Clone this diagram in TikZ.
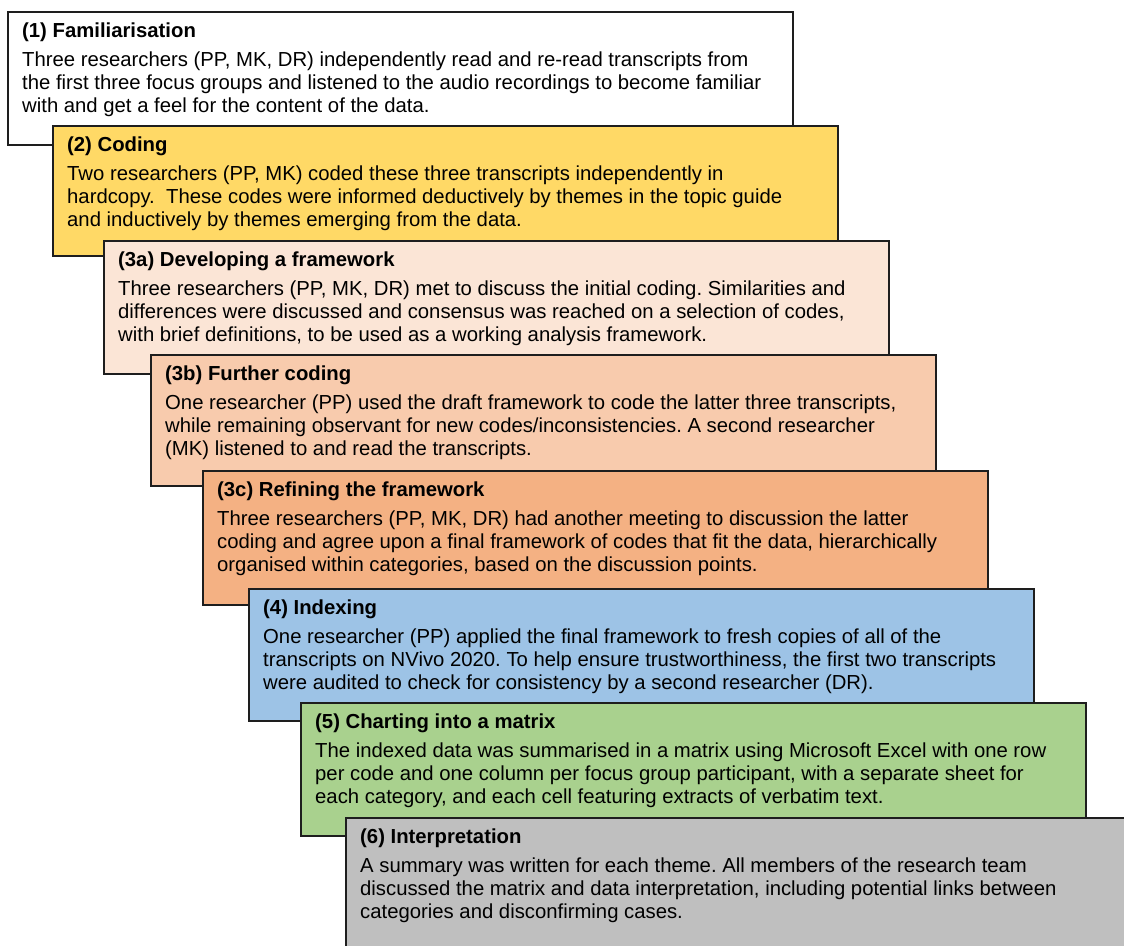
\documentclass[tikz,border=0pt]{standalone}
\usepackage{fontspec}
\setmainfont{Liberation Sans}
\usepackage{xcolor}
\usepackage{tikz}
\usetikzlibrary{calc}
\frenchspacing
\definecolor{famcolor}{RGB}{255,255,255}
\definecolor{codecolor}{RGB}{255,217,102}
\definecolor{framecolor}{RGB}{251,229,214}
\definecolor{furthercolor}{RGB}{248,203,173}
\definecolor{refinecolor}{RGB}{244,177,131}
\definecolor{indexcolor}{RGB}{157,195,230}
\definecolor{chartcolor}{RGB}{169,209,142}
\definecolor{interpcolor}{RGB}{191,191,191}
\definecolor{edgecolor}{RGB}{30,30,30}

\begin{document}
\begin{tikzpicture}[
    x=1pt, y=-1pt,
    every node/.style={font=\fontsize{20.3}{23}\selectfont},
    stepbox/.style={rectangle, draw=edgecolor, line width=1.8pt, anchor=north west, inner sep=0pt, minimum width=785pt, minimum height=133pt},
    steptitle/.style={anchor=base west, inner sep=0pt, font=\fontsize{20.3}{23}\selectfont\bfseries},
    steptext/.style={anchor=base west, inner sep=0pt, align=left}
]
\useasboundingbox (0,0) rectangle (1124,945);
\clip (0,0) rectangle (1124,945);

% (1) Familiarisation
\node[stepbox, fill=famcolor] (fam) at (7,11) {};
\node[steptitle] (famtitle) at ($(fam.north west)+(15,26)$) {(1) Familiarisation};
\node[steptext] (famtext) at ($(fam.north west)+(15,101)$) {Three researchers (PP, MK, DR) independently read and re-read transcripts from\\the first three focus groups and listened to the audio recordings to become familiar\\with and get a feel for the content of the data.};

% (2) Coding
\node[stepbox, fill=codecolor, minimum height=130pt] (coding) at (52,125) {};
\node[steptitle] (codingtitle) at ($(coding.north west)+(15,26)$) {(2) Coding};
\node[steptext] (codingtext) at ($(coding.north west)+(15,101)$) {Two researchers (PP, MK) coded these three transcripts independently in\\hardcopy.\ \ These codes were informed deductively by themes in the topic guide\\and inductively by themes emerging from the data.};

% (3a) Developing a framework
\node[stepbox, fill=framecolor] (develop) at (103,240) {};
\node[steptitle] (developtitle) at ($(develop.north west)+(15,26)$) {(3a) Developing a framework};
\node[steptext] (developtext) at ($(develop.north west)+(15,101)$) {Three researchers (PP, MK, DR) met to discuss the initial coding. Similarities and\\differences were discussed and consensus was reached on a selection of codes,\\with brief definitions, to be used as a working analysis framework.};

% (3b) Further coding
\node[stepbox, fill=furthercolor, minimum height=131pt] (further) at (150,354) {};
\node[steptitle] (furthertitle) at ($(further.north west)+(15,26)$) {(3b) Further coding};
\node[steptext] (furthertext) at ($(further.north west)+(15,101)$) {One researcher (PP) used the draft framework to code the latter three transcripts,\\while remaining observant for new codes/inconsistencies. A second researcher\\(MK) listened to and read the transcripts.};

% (3c) Refining the framework
\node[stepbox, fill=refinecolor, minimum height=134pt] (refine) at (202,470) {};
\node[steptitle] (refinetitle) at ($(refine.north west)+(15,26)$) {(3c) Refining the framework};
\node[steptext] (refinetext) at ($(refine.north west)+(15,101)$) {Three researchers (PP, MK, DR) had another meeting to discussion the latter\\coding and agree upon a final framework of codes that fit the data, hierarchically\\organised within categories, based on the discussion points.};

% (4) Indexing
\node[stepbox, fill=indexcolor, minimum height=132pt] (index) at (248,588) {};
\node[steptitle] (indextitle) at ($(index.north west)+(15,26)$) {(4) Indexing};
\node[steptext] (indextext) at ($(index.north west)+(15,101)$) {One researcher (PP) applied the final framework to fresh copies of all of the\\transcripts on NVivo 2020. To help ensure trustworthiness, the first two transcripts\\were audited to check for consistency by a second researcher (DR).};

% (5) Charting into a matrix
\node[stepbox, fill=chartcolor] (chart) at (300,702) {};
\node[steptitle] (charttitle) at ($(chart.north west)+(15,26)$) {(5) Charting into a matrix};
\node[steptext] (charttext) at ($(chart.north west)+(15,101)$) {The indexed data was summarised in a matrix using Microsoft Excel with one row\\per code and one column per focus group participant, with a separate sheet for\\each category, and each cell featuring extracts of verbatim text.};

% (6) Interpretation
\node[stepbox, fill=interpcolor, minimum width=800pt, minimum height=140pt] (interp) at (345,817) {};
\node[steptitle] (interptitle) at ($(interp.north west)+(15,26)$) {(6) Interpretation};
\node[steptext] (interptext) at ($(interp.north west)+(15,101)$) {A summary was written for each theme. All members of the research team\\discussed the matrix and data interpretation, including potential links between\\categories and disconfirming cases.};

\end{tikzpicture}
\end{document}
